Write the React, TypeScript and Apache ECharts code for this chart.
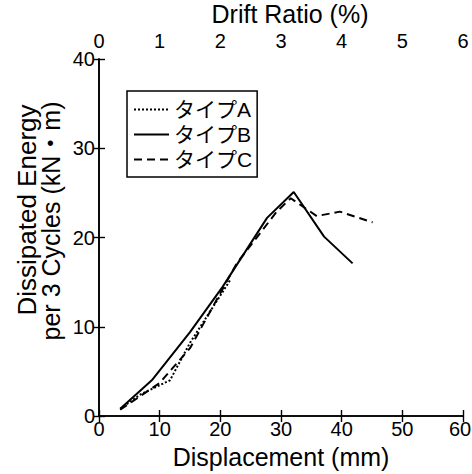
import React, { useEffect, useRef } from "react";
import * as echarts from "echarts";

// Displacement (mm) / dissipated energy (kN·m)
const dispA = [3.5, 6.8, 11.7, 15.0, 21.6];
const energyA = [0.8, 2.4, 4.0, 8.2, 15.2];

const dispB = [3.5, 8.7, 15.0, 20.4, 27.7, 32.1, 37.1, 41.8];
const energyB = [0.8, 4.0, 9.4, 14.5, 22.2, 25.1, 20.1, 17.1];

const dispC = [3.5, 10.0, 15.0, 22.7, 29.3, 31.6, 35.9, 39.7, 45.1];
const energyC = [0.7, 3.7, 7.6, 17.1, 22.9, 24.4, 22.4, 22.9, 21.7];

const seriesNames = ["タイプA", "タイプB", "タイプC"];

const xName = "Displacement (mm)";
const x2Name = "Drift Ratio (%)";
const yNameLine1 = "Dissipated Energy";
const yNameLine2 = "per 3 Cycles (kN・m)";

const FONT = "'Liberation Sans', 'Noto Sans CJK JP', sans-serif";

const pairs = (xs: number[], ys: number[]) => xs.map((x, i) => [x, ys[i]]);

export default function App() {
  const ref = useRef<HTMLDivElement>(null);
  useEffect(() => {
    if (!ref.current) return;
    const chart = echarts.init(ref.current, null, { renderer: "svg" });
    const axisLine = { show: true, lineStyle: { color: "#000", width: 1.6 } };
    const axisTick = { show: true, inside: true, length: 6, lineStyle: { color: "#000", width: 1.4 } };
    const labelStyle = { color: "#000", fontSize: 20, fontFamily: FONT };
    chart.setOption({
      animation: false,
      backgroundColor: "#fff",
      grid: { left: 99, right: 9, top: 59, bottom: 58, containLabel: false, outerBoundsMode: "none" },
      xAxis: [
        {
          type: "value",
          position: "bottom",
          min: 0,
          max: 60,
          interval: 10,
          axisLine,
          axisTick,
          splitLine: { show: false },
          axisLabel: {
            ...labelStyle,
            margin: 3,
            formatter: (v: number) => (v === 60 ? `{e|${v}}` : `${v}`),
            rich: { e: { ...labelStyle, padding: [0, 6, 0, 0] } },
          },
          name: xName,
          nameLocation: "middle",
          nameGap: 28,
          nameTextStyle: { color: "#000", fontSize: 25, fontFamily: FONT },
        },
        {
          type: "value",
          position: "top",
          min: 0,
          max: 6,
          interval: 1,
          axisLine,
          axisTick,
          splitLine: { show: false },
          axisLabel: { ...labelStyle, margin: 8 },
          name: x2Name,
          nameLocation: "middle",
          nameGap: 29,
          nameTextStyle: { color: "#000", fontSize: 25, fontFamily: FONT, padding: [0, 0, 0, 18] },
        },
      ],
      yAxis: [
        {
          type: "value",
          position: "left",
          min: 0,
          max: 40,
          interval: 10,
          axisLine,
          axisTick,
          splitLine: { show: false },
          axisLabel: { ...labelStyle, margin: 4 },
        },
        {
          type: "value",
          position: "right",
          min: 0,
          max: 40,
          interval: 10,
          axisLine,
          axisTick,
          splitLine: { show: false },
          axisLabel: { show: false },
        },
      ],
      legend: {
        orient: "vertical",
        left: 127,
        top: 91,
        data: seriesNames,
        itemWidth: 35,
        itemHeight: 14,
        itemGap: 0,
        borderColor: "#000",
        borderWidth: 1.5,
        padding: [6, 5, 5, 6],
        itemStyle: { opacity: 0 },
        textStyle: { color: "#000", fontSize: 21, lineHeight: 25, fontFamily: FONT },
      },
      graphic: [
        {
          type: "text",
          x: 27,
          y: 210,
          rotation: Math.PI / 2,
          style: {
            text: yNameLine1,
            fill: "#000",
            font: `26px ${FONT}`,
            align: "center",
            verticalAlign: "middle",
          },
        },
        {
          type: "text",
          x: 51,
          y: 221,
          rotation: Math.PI / 2,
          style: {
            text: yNameLine2,
            fill: "#000",
            font: `25px ${FONT}`,
            align: "center",
            verticalAlign: "middle",
          },
        },
      ],
      series: [
        {
          name: seriesNames[0],
          type: "line",
          data: pairs(dispA, energyA),
          symbol: "none",
          lineStyle: { color: "#000", width: 2, type: "dotted" },
          itemStyle: { color: "#000" },
        },
        {
          name: seriesNames[1],
          type: "line",
          data: pairs(dispB, energyB),
          symbol: "none",
          lineStyle: { color: "#000", width: 2, type: "solid" },
          itemStyle: { color: "#000" },
        },
        {
          name: seriesNames[2],
          type: "line",
          data: pairs(dispC, energyC),
          symbol: "none",
          lineStyle: { color: "#000", width: 2, type: [8, 5] },
          itemStyle: { color: "#000" },
        },
      ],
    });
    return () => chart.dispose();
  }, []);
  return <div ref={ref} style={{ width: 472, height: 474, position: "absolute", left: 0, top: 0 }} />;
}
